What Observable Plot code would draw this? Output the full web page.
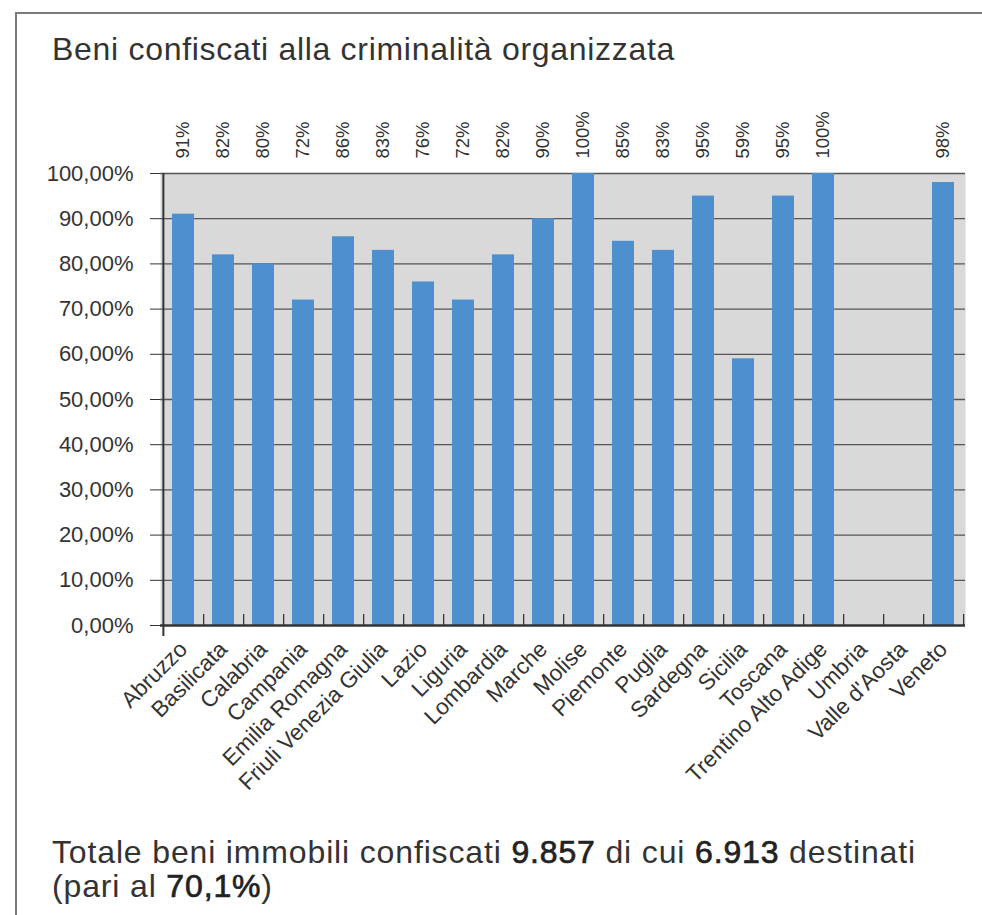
<!DOCTYPE html>
<html>
<head>
<meta charset="utf-8">
<script src="https://cdn.jsdelivr.net/npm/d3@7"></script>
<script src="https://cdn.jsdelivr.net/npm/@observablehq/plot@0.6"></script>
<style>
  html, body { margin: 0; padding: 0; background: #fff; }
  body { width: 982px; height: 915px; position: relative; overflow: hidden; font-family: "Liberation Sans", Arial, sans-serif; color: #333; }
  #frameTop { position: absolute; left: 15px; top: 12px; width: 967px; height: 0; border-top: 2px solid #7a7a7a; z-index: 2; }
  #frameLeft { position: absolute; left: 15px; top: 12px; width: 0; height: 903px; border-left: 2px solid #7a7a7a; z-index: 2; }
  #title { position: absolute; left: 52px; top: 31px; font-size: 32px; color: #333; letter-spacing: 0.7px; white-space: nowrap; }
  #chart { position: absolute; left: 0; top: 90px; z-index: 1; }
  #note { position: absolute; left: 52px; top: 835px; font-size: 32px; line-height: 34px; color: #333; letter-spacing: 0.85px; white-space: nowrap; }
  #note div { height: 34px; }
  #note b { font-weight: normal; color: #222; -webkit-text-stroke: 0.7px #222; }
</style>
</head>
<body>
<div id="frameTop"></div>
<div id="frameLeft"></div>
<div id="title">Beni confiscati alla criminalità organizzata</div>
<div id="chart"></div>
<div id="note"><div>Totale beni immobili confiscati <b>9.857</b> di cui <b>6.913</b> destinati</div><div>(pari al <b>70,1%</b>)</div></div>
<script>
const regions = ["Abruzzo","Basilicata","Calabria","Campania","Emilia Romagna","Friuli Venezia Giulia","Lazio","Liguria","Lombardia","Marche","Molise","Piemonte","Puglia","Sardegna","Sicilia","Toscana","Trentino Alto Adige","Umbria","Valle d'Aosta","Veneto"];
const shares = [0.91,0.82,0.80,0.72,0.86,0.83,0.76,0.72,0.82,0.90,1.00,0.85,0.83,0.95,0.59,0.95,1.00,null,null,0.98];
const yTicks = [0,0.1,0.2,0.3,0.4,0.5,0.6,0.7,0.8,0.9,1.0];

const data = regions.map((r, i) => ({region: r, value: shares[i]}));
const withValue = data.filter(d => d.value != null);

const width = 982, height = 720;
const mL = 160, mR = 17, mT = 83, mB = 185;
const step = (width - mL - mR) / regions.length;
const pxPerUnit = (height - mT - mB);

const plot = Plot.plot({
  width, height,
  marginLeft: mL, marginRight: mR, marginTop: mT, marginBottom: mB,
  style: { fontFamily: "Liberation Sans, Arial, sans-serif", color: "#333", background: "transparent", overflow: "visible" },
  x: { domain: regions, paddingInner: 0.45, paddingOuter: 0.225, label: null },
  y: { domain: [0, 1], label: null },
  marks: [
    Plot.frame({ fill: "#d9d9d9", stroke: null }),
    Plot.ruleY(yTicks.filter(t => t > 0), { y: d => d, stroke: "#555", strokeWidth: 1.3 }),
    Plot.barY(withValue, { x: "region", y: "value", fill: "#4e8fcd" }),
    Plot.ruleX(regions, { x: d => d, dx: step / 2, y1: 0, y2: 11 / pxPerUnit, stroke: "#333", strokeWidth: 1.3 }),
    Plot.ruleY([0], { stroke: "#333", strokeWidth: 2.5 }),
    Plot.ruleX([regions[0]], { x: d => d, dx: -step / 2, y1: -11 / pxPerUnit, y2: 1, stroke: "#333", strokeWidth: 2 }),
    Plot.axisY({ ticks: yTicks, tickSize: 10, tickPadding: 17, fontSize: 22, stroke: "#333",
      tickFormat: d => (d * 100).toFixed(2).replace(".", ",") + "%", label: null }),
    Plot.axisX({ tickSize: 0, tickRotate: -45, fontSize: 22.5, tickPadding: 20, label: null }),
    Plot.text(withValue, { x: "region", y: () => 1, text: d => Math.round(d.value * 100) + "%",
      rotate: -90, textAnchor: "start", dy: -15, fontSize: 18.5, fill: "#333" })
  ]
});
document.getElementById("chart").appendChild(plot);
</script>
</body>
</html>
